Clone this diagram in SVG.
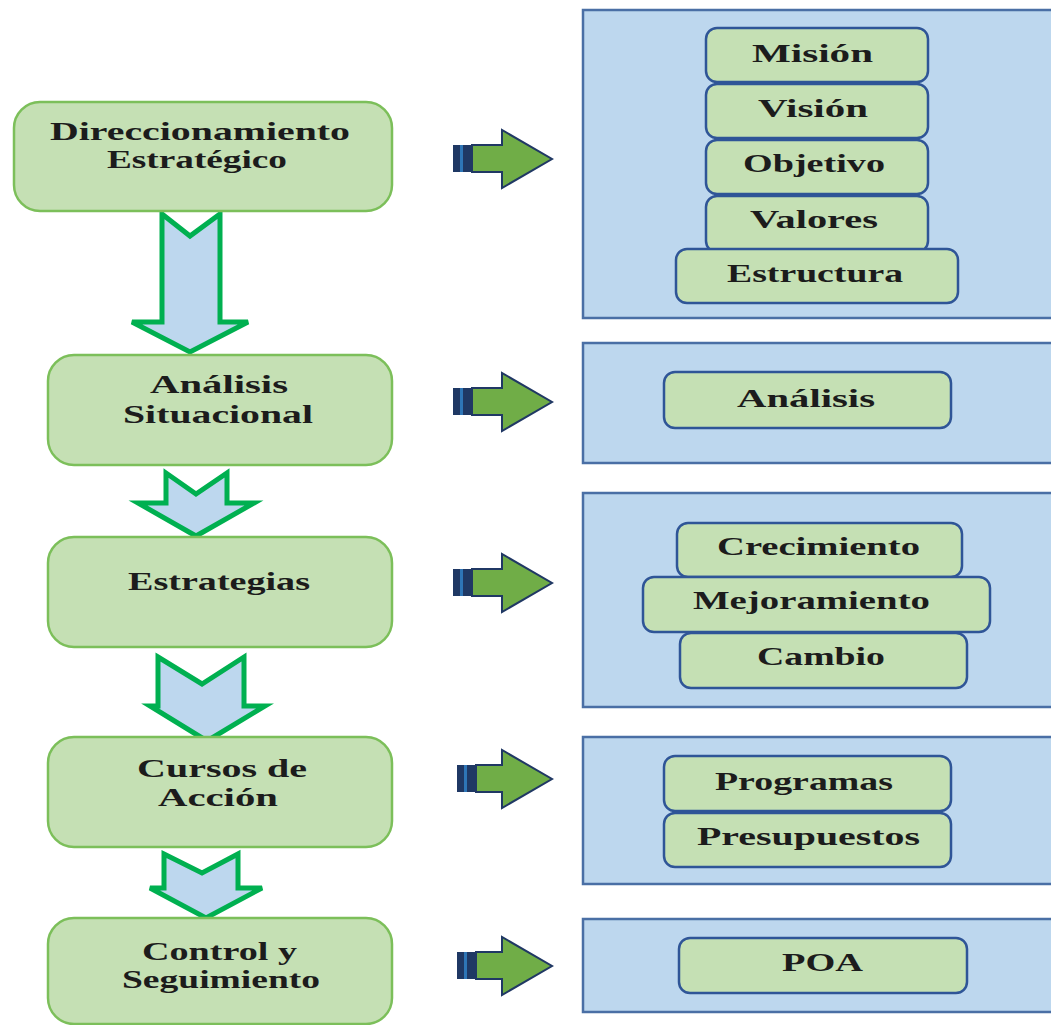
<svg xmlns="http://www.w3.org/2000/svg" width="1051" height="1025" viewBox="0 0 1051 1025">
<style>
.lbox{fill:#c5e0b4;stroke:#7cbf5a;stroke-width:2.5}
.panel{fill:#bdd7ee;stroke:#4a6fa5;stroke-width:2.5}
.ibox{fill:#c5e0b4;stroke:#2f5597;stroke-width:2.5}
.t{font-family:"Liberation Serif","Times New Roman",serif;font-size:25px;font-weight:bold;fill:#1c1c1c}
.down{fill:#bdd7ee;stroke:#00b050;stroke-width:5;stroke-linejoin:miter}
.right{fill:#70ad47;stroke:#203864;stroke-width:2}
</style>
<rect width="1051" height="1025" fill="#ffffff"/>

<g id="connectors">
  <polygon class="down" points="162,214 190,236 220,214 220,322 248,322 190,352 132,322 162,322"/>
  <polygon class="down" points="166,473 196,494 227,473 227,503 254,503 196,536 138,503 166,503"/>
  <polygon class="down" points="158,657 202,684 244,657 244,706 265,706 207,741 150,706 158,706"/>
  <polygon class="down" points="164,854 202,873 238,854 238,888 262,888 206,918 150,888 164,888"/>
  <g id="rarrow1">
    <polygon class="right" points="472,145 502,145 502,130 552,159 502,188 502,172 472,172"/>
    <rect x="453" y="145" width="19" height="27" fill="#1f3864"/><rect x="460" y="145" width="3" height="27" fill="#2e75b6"/>
  </g>
  <g id="rarrow2">
    <polygon class="right" points="472,388 502,388 502,373 552,402 502,431 502,415 472,415"/>
    <rect x="453" y="388" width="19" height="27" fill="#1f3864"/><rect x="460" y="388" width="3" height="27" fill="#2e75b6"/>
  </g>
  <g id="rarrow3">
    <polygon class="right" points="472,569 502,569 502,554 552,583 502,612 502,596 472,596"/>
    <rect x="453" y="569" width="19" height="27" fill="#1f3864"/><rect x="460" y="569" width="3" height="27" fill="#2e75b6"/>
  </g>
  <g id="rarrow4">
    <polygon class="right" points="476,765 502,765 502,750 552,779 502,808 502,792 476,792"/>
    <rect x="457" y="765" width="19" height="27" fill="#1f3864"/><rect x="464" y="765" width="3" height="27" fill="#2e75b6"/>
  </g>
  <g id="rarrow5">
    <polygon class="right" points="476,952 502,952 502,937 552,966 502,995 502,979 476,979"/>
    <rect x="457" y="952" width="19" height="27" fill="#1f3864"/><rect x="464" y="952" width="3" height="27" fill="#2e75b6"/>
  </g>
</g>

<g id="n-direccionamiento">
  <rect class="lbox" x="14" y="102" width="378" height="109" rx="26"/>
  <text class="t" x="50" y="140" textLength="300" lengthAdjust="spacingAndGlyphs">Direccionamiento</text>
  <text class="t" x="107" y="168" textLength="180" lengthAdjust="spacingAndGlyphs">Estratégico</text>
</g>
<g id="n-analisis-situacional">
  <rect class="lbox" x="48" y="355" width="344" height="110" rx="26"/>
  <text class="t" x="150" y="393" textLength="138" lengthAdjust="spacingAndGlyphs">Análisis</text>
  <text class="t" x="123" y="423" textLength="190" lengthAdjust="spacingAndGlyphs">Situacional</text>
</g>
<g id="n-estrategias">
  <rect class="lbox" x="48" y="537" width="344" height="110" rx="26"/>
  <text class="t" x="128" y="590" textLength="182" lengthAdjust="spacingAndGlyphs">Estrategias</text>
</g>
<g id="n-cursos">
  <rect class="lbox" x="48" y="737" width="344" height="110" rx="26"/>
  <text class="t" x="137" y="777" textLength="170" lengthAdjust="spacingAndGlyphs">Cursos de</text>
  <text class="t" x="158" y="806" textLength="120" lengthAdjust="spacingAndGlyphs">Acción</text>
</g>
<g id="n-control">
  <rect class="lbox" x="48" y="918" width="344" height="106" rx="26"/>
  <text class="t" x="142" y="960" textLength="155" lengthAdjust="spacingAndGlyphs">Control y</text>
  <text class="t" x="122" y="988" textLength="198" lengthAdjust="spacingAndGlyphs">Seguimiento</text>
</g>

<g id="p-direccionamiento">
  <rect class="panel" x="583" y="10" width="470" height="308"/>
  <g id="n-mision"><rect class="ibox" x="706" y="28" width="222" height="54" rx="11"/>
    <text class="t" x="752" y="62" textLength="121" lengthAdjust="spacingAndGlyphs">Misión</text></g>
  <g id="n-vision"><rect class="ibox" x="706" y="84" width="222" height="54" rx="11"/>
    <text class="t" x="758" y="117" textLength="110" lengthAdjust="spacingAndGlyphs">Visión</text></g>
  <g id="n-objetivo"><rect class="ibox" x="706" y="140" width="222" height="54" rx="11"/>
    <text class="t" x="743" y="172" textLength="142" lengthAdjust="spacingAndGlyphs">Objetivo</text></g>
  <g id="n-valores"><rect class="ibox" x="706" y="196" width="222" height="56" rx="11"/>
    <text class="t" x="750" y="228" textLength="128" lengthAdjust="spacingAndGlyphs">Valores</text></g>
  <g id="n-estructura"><rect class="ibox" x="676" y="249" width="282" height="54" rx="11"/>
    <text class="t" x="727" y="282" textLength="176" lengthAdjust="spacingAndGlyphs">Estructura</text></g>
</g>
<g id="p-analisis">
  <rect class="panel" x="583" y="343" width="470" height="120"/>
  <g id="n-analisis"><rect class="ibox" x="664" y="372" width="287" height="56" rx="11"/>
    <text class="t" x="737" y="407" textLength="138" lengthAdjust="spacingAndGlyphs">Análisis</text></g>
</g>
<g id="p-estrategias">
  <rect class="panel" x="583" y="493" width="470" height="214"/>
  <g id="n-crecimiento"><rect class="ibox" x="677" y="523" width="285" height="54" rx="11"/>
    <text class="t" x="717" y="555" textLength="203" lengthAdjust="spacingAndGlyphs">Crecimiento</text></g>
  <g id="n-cambio"><rect class="ibox" x="680" y="633" width="287" height="55" rx="11"/>
    <text class="t" x="757" y="665" textLength="128" lengthAdjust="spacingAndGlyphs">Cambio</text></g>
  <g id="n-mejoramiento"><rect class="ibox" x="643" y="577" width="347" height="55" rx="11"/>
    <text class="t" x="693" y="609" textLength="237" lengthAdjust="spacingAndGlyphs">Mejoramiento</text></g>
</g>
<g id="p-cursos">
  <rect class="panel" x="583" y="737" width="470" height="147"/>
  <g id="n-programas"><rect class="ibox" x="664" y="756" width="287" height="55" rx="11"/>
    <text class="t" x="715" y="790" textLength="178" lengthAdjust="spacingAndGlyphs">Programas</text></g>
  <g id="n-presupuestos"><rect class="ibox" x="664" y="813" width="287" height="54" rx="11"/>
    <text class="t" x="697" y="845" textLength="223" lengthAdjust="spacingAndGlyphs">Presupuestos</text></g>
</g>
<g id="p-control">
  <rect class="panel" x="583" y="919" width="470" height="93"/>
  <g id="n-poa"><rect class="ibox" x="679" y="938" width="288" height="55" rx="11"/>
    <text class="t" x="782" y="971" textLength="81" lengthAdjust="spacingAndGlyphs">POA</text></g>
</g>
</svg>
